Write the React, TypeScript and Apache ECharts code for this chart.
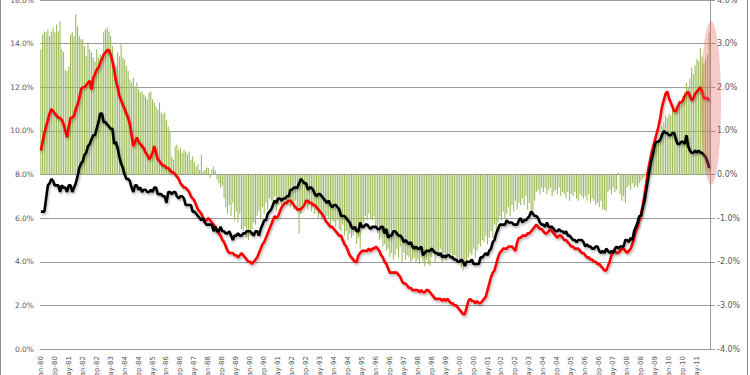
import React, { useEffect, useRef } from "react";
import * as echarts from "echarts";

const MONTHS = ["Jan", "Feb", "Mar", "Apr", "May", "Jun", "Jul", "Aug", "Sep", "Oct", "Nov", "Dec"];
const FIRST_YEAR = 1980;
const LAST_YEAR = 2011;

// Left axis (black line), %, monthly 1980-2011
const blackLine = [
  6.3, 6.3, 6.3, 6.9, 7.5, 7.6, 7.8, 7.7, 7.5, 7.5, 7.5, 7.2,
  7.5, 7.4, 7.4, 7.2, 7.5, 7.5, 7.2, 7.4, 7.6, 7.9, 8.3, 8.5,
  8.6, 8.9, 9.0, 9.3, 9.4, 9.6, 9.8, 9.8, 10.1, 10.4, 10.8, 10.8,
  10.4, 10.4, 10.3, 10.2, 10.1, 10.1, 9.4, 9.5, 9.2, 8.8, 8.5, 8.3,
  8.0, 7.8, 7.8, 7.7, 7.4, 7.2, 7.5, 7.5, 7.3, 7.4, 7.2, 7.3,
  7.3, 7.2, 7.2, 7.3, 7.2, 7.4, 7.4, 7.1, 7.1, 7.1, 7.0, 7.0,
  6.7, 7.2, 7.2, 7.1, 7.2, 7.2, 7.0, 6.9, 7.0, 7.0, 6.9, 6.6,
  6.6, 6.6, 6.6, 6.3, 6.3, 6.2, 6.1, 6.0, 5.9, 6.0, 5.8, 5.7,
  5.7, 5.7, 5.7, 5.4, 5.6, 5.4, 5.4, 5.6, 5.4, 5.4, 5.3, 5.3,
  5.4, 5.2, 5.0, 5.2, 5.2, 5.3, 5.2, 5.2, 5.3, 5.3, 5.4, 5.4,
  5.4, 5.3, 5.2, 5.4, 5.4, 5.2, 5.5, 5.7, 5.9, 5.9, 6.2, 6.3,
  6.4, 6.6, 6.8, 6.7, 6.9, 6.9, 6.8, 6.9, 6.9, 7.0, 7.0, 7.3,
  7.3, 7.4, 7.4, 7.4, 7.6, 7.8, 7.7, 7.6, 7.6, 7.3, 7.4, 7.4,
  7.3, 7.1, 7.0, 7.1, 7.1, 7.0, 6.9, 6.8, 6.7, 6.8, 6.6, 6.5,
  6.6, 6.6, 6.5, 6.4, 6.1, 6.1, 6.1, 6.0, 5.9, 5.8, 5.6, 5.5,
  5.6, 5.4, 5.4, 5.8, 5.6, 5.6, 5.7, 5.7, 5.6, 5.5, 5.6, 5.6,
  5.6, 5.5, 5.5, 5.6, 5.6, 5.3, 5.5, 5.1, 5.2, 5.2, 5.4, 5.4,
  5.3, 5.2, 5.2, 5.1, 4.9, 5.0, 4.9, 4.8, 4.9, 4.7, 4.6, 4.7,
  4.6, 4.6, 4.7, 4.3, 4.4, 4.5, 4.5, 4.5, 4.6, 4.5, 4.4, 4.4,
  4.3, 4.4, 4.2, 4.3, 4.2, 4.3, 4.3, 4.2, 4.2, 4.1, 4.1, 4.0,
  4.0, 4.1, 4.0, 3.8, 4.0, 4.0, 4.0, 4.1, 3.9, 3.9, 3.9, 3.9,
  4.2, 4.2, 4.3, 4.4, 4.3, 4.5, 4.6, 4.9, 5.0, 5.3, 5.5, 5.7,
  5.7, 5.7, 5.7, 5.9, 5.8, 5.8, 5.8, 5.7, 5.7, 5.7, 5.9, 6.0,
  5.8, 5.9, 5.9, 6.0, 6.1, 6.3, 6.2, 6.1, 6.1, 6.0, 5.8, 5.7,
  5.7, 5.6, 5.8, 5.6, 5.6, 5.6, 5.5, 5.4, 5.4, 5.5, 5.4, 5.4,
  5.3, 5.4, 5.2, 5.2, 5.1, 5.0, 5.0, 4.9, 5.0, 5.0, 5.0, 4.9,
  4.7, 4.8, 4.7, 4.7, 4.6, 4.6, 4.7, 4.7, 4.5, 4.4, 4.5, 4.4,
  4.6, 4.5, 4.4, 4.5, 4.4, 4.6, 4.7, 4.6, 4.7, 4.7, 4.7, 5.0,
  5.0, 4.9, 5.1, 5.0, 5.4, 5.6, 5.8, 6.1, 6.1, 6.5, 6.8, 7.3,
  7.8, 8.3, 8.7, 9.0, 9.4, 9.5, 9.5, 9.6, 9.8, 10.0, 9.9, 9.9,
  9.8, 9.8, 9.9, 9.9, 9.6, 9.4, 9.4, 9.5, 9.5, 9.4, 9.8, 9.3,
  9.1, 9.0, 9.0, 9.1, 9.0, 9.1, 9.0, 9.0, 8.9, 8.8, 8.6, 8.3,
];

// Left axis (red line), %, monthly 1980-2011
const redLine = [
  9.1, 9.5, 9.9, 10.2, 10.5, 10.8, 11.0, 10.9, 10.8, 10.7, 10.6, 10.6,
  10.5, 10.3, 10.0, 9.7, 10.2, 10.6, 10.6, 10.7, 11.0, 11.2, 11.5, 11.9,
  12.0, 12.0, 12.1, 12.2, 12.3, 11.9, 12.4, 12.6, 12.8, 12.9, 13.1, 13.3,
  13.5, 13.6, 13.7, 13.7, 13.5, 13.2, 12.8, 12.3, 12.0, 11.6, 11.4, 11.2,
  11.0, 10.8, 10.6, 10.3, 9.8, 9.3, 9.5, 9.7, 9.5, 9.4, 9.3, 9.2,
  9.0, 8.9, 8.7, 8.8, 9.0, 9.3, 9.0, 8.7, 8.6, 8.5, 8.4, 8.4,
  8.3, 8.3, 8.2, 8.1, 8.1, 8.0, 7.9, 7.8, 7.6, 7.5, 7.4, 7.4,
  7.3, 7.2, 7.0, 6.9, 6.8, 6.6, 6.4, 6.3, 6.2, 6.0, 5.9, 5.9,
  6.0, 5.9, 5.8, 5.7, 5.6, 5.4, 5.3, 5.2, 5.0, 4.9, 4.7, 4.5,
  4.4, 4.4, 4.4, 4.3, 4.3, 4.2, 4.3, 4.4, 4.3, 4.2, 4.1, 4.0,
  4.0, 3.9, 4.0, 4.1, 4.2, 4.4, 4.6, 4.8, 4.9, 5.1, 5.3, 5.5,
  5.7, 5.9, 6.1, 6.0, 6.1, 6.3, 6.5, 6.6, 6.7, 6.7, 6.8, 6.8,
  6.7, 6.6, 6.5, 6.4, 6.4, 6.4, 6.5, 6.6, 6.8, 6.8, 6.7, 6.7,
  6.6, 6.6, 6.5, 6.4, 6.3, 6.2, 6.1, 5.9, 5.8, 5.7, 5.6, 5.6,
  5.5, 5.4, 5.3, 5.2, 5.2, 5.0, 4.8, 4.7, 4.5, 4.3, 4.2, 4.1,
  4.0, 4.0, 4.3, 4.4, 4.5, 4.5, 4.5, 4.5, 4.6, 4.5, 4.6, 4.6,
  4.7, 4.6, 4.5, 4.3, 4.2, 4.0, 3.9, 3.7, 3.5, 3.5, 3.5, 3.5,
  3.5, 3.4, 3.3, 3.1, 3.0, 3.0, 2.9, 2.8, 2.8, 2.7, 2.7, 2.7,
  2.7, 2.6, 2.7, 2.6, 2.6, 2.7, 2.7, 2.6, 2.5, 2.4, 2.3, 2.3,
  2.3, 2.3, 2.2, 2.3, 2.2, 2.3, 2.2, 2.1, 2.1, 2.0, 2.0, 1.9,
  1.8, 1.7, 1.6, 1.6, 1.9, 2.2, 2.3, 2.2, 2.2, 2.1, 2.2, 2.1,
  2.1, 2.2, 2.3, 2.4, 2.7, 3.0, 3.3, 3.5, 3.6, 3.9, 4.2, 4.4,
  4.5, 4.6, 4.6, 4.6, 4.7, 4.7, 4.7, 4.6, 4.5, 4.9, 5.1, 5.1,
  5.2, 5.2, 5.2, 5.3, 5.3, 5.4, 5.5, 5.6, 5.7, 5.6, 5.5, 5.5,
  5.4, 5.3, 5.3, 5.4, 5.5, 5.4, 5.3, 5.2, 5.1, 5.2, 5.2, 5.1,
  5.0, 5.0, 4.9, 4.8, 4.7, 4.7, 4.6, 4.6, 4.6, 4.5, 4.4, 4.4,
  4.3, 4.2, 4.2, 4.1, 4.1, 4.0, 4.0, 3.9, 3.9, 3.8, 3.7, 3.6,
  3.6, 3.8, 4.0, 4.3, 4.5, 4.5, 4.4, 4.4, 4.5, 4.6, 4.6, 4.5,
  4.4, 4.5, 4.6, 4.8, 5.1, 5.4, 5.6, 5.9, 6.2, 6.6, 7.1, 7.6,
  8.2, 8.6, 9.0, 9.3, 9.6, 9.9, 10.2, 10.6, 11.1, 11.4, 11.7, 11.8,
  11.5, 11.3, 11.1, 10.9, 10.9, 11.1, 11.3, 11.3, 11.4, 11.6, 11.7, 11.8,
  11.6, 11.4, 11.5, 11.7, 11.8, 11.9, 12.0, 11.8, 11.5, 11.5, 11.5, 11.4,
];

// Right axis (green bars), %, monthly 1980-2011
const greenBars = [
  2.87, 3.21, 3.28, 3.26, 3.33, 3.17, 3.28, 3.37, 3.26, 3.44, 3.28, 3.51,
  2.87, 2.8, 2.4, 2.37, 2.48, 3.21, 3.26, 3.17, 3.67, 3.4, 3.17, 3.1,
  3.1, 2.94, 2.71, 3.03, 2.87, 2.8, 2.68, 2.59, 2.87, 2.68, 2.75, 2.57,
  3.26, 3.33, 3.37, 3.28, 3.17, 2.94, 2.57, 2.48, 2.8, 2.71, 2.98, 2.68,
  2.64, 2.48, 2.37, 2.18, 2.11, 2.22, 2.02, 2.11, 1.95, 1.88, 1.9, 1.83,
  1.79, 1.72, 1.88, 1.9, 1.72, 1.65, 1.56, 1.49, 1.65, 1.42, 1.38, 1.42,
  1.26, 1.1, 0.99, 0.41, 0.34, 0.64, 0.69, 0.57, 0.62, 0.5, 0.57, 0.53,
  0.46, 0.53, 0.34, 0.41, 0.28, 0.18, 0.23, 0.11, 0.45, 0.07, 0.11, 0.16,
  0.15, -0.08, 0.12, 0.18, 0.1, -0.12, -0.2, -0.3, -0.25, -0.55, -0.75, -0.9,
  -0.7, -0.95, -0.65, -1.05, -0.85, -1.1, -0.9, -1.25, -1.3, -1.2, -1.45, -1.5,
  -1.4, -1.25, -1.1, -1.15, -0.95, -0.85, -1.05, -0.75, -0.9, -0.65, -0.8, -0.55,
  -0.6, -0.75, -0.5, -0.85, -0.7, -0.55, -0.8, -0.6, -0.5, -0.7, -0.55, -0.75,
  -0.65, -0.8, -0.6, -0.85, -1.35, -0.9, -0.7, -0.75, -0.6, -0.8, -0.65, -0.85,
  -0.75, -0.9, -0.8, -1.0, -0.85, -1.05, -0.9, -1.1, -0.95, -1.0, -1.15, -1.05,
  -1.1, -1.2, -1.05, -1.25, -1.3, -1.15, -1.4, -1.3, -1.5, -1.35, -1.45, -1.4,
  -1.3, -1.6, -1.45, -1.7, -1.25, -1.1, -0.95, -1.05, -0.9, -1.0, -1.05, -0.95,
  -1.2, -1.35, -1.5, -1.45, -1.65, -1.6, -1.75, -1.7, -1.9, -1.8, -1.95, -1.85,
  -1.7, -1.9, -1.65, -2.0, -1.8, -1.95, -1.85, -1.9, -2.0, -1.95, -1.9, -2.0,
  -1.95, -2.05, -1.9, -2.0, -2.1, -1.95, -2.05, -2.1, -1.9, -1.75, -2.0, -1.8,
  -1.85, -1.7, -2.0, -1.8, -1.95, -1.85, -1.9, -1.8, -1.95, -1.85, -1.9, -2.0,
  -2.0, -2.15, -2.2, -2.1, -2.05, -1.9, -1.8, -1.85, -1.7, -1.9, -1.75, -1.6,
  -1.65, -1.5, -1.55, -1.4, -1.6, -1.45, -1.3, -1.45, -1.15, -1.35, -1.1, -0.95,
  -1.05, -0.85, -1.0, -0.9, -0.75, -0.95, -0.7, -0.85, -0.6, -0.8, -0.65, -0.7,
  -0.55, -0.7, -0.5, -0.8, -0.65, -0.85, -0.9, -0.6, -0.4, -0.35, -0.45, -0.3,
  -0.4, -0.3, -0.45, -0.35, -0.3, -0.5, -0.4, -0.35, -0.45, -0.3, -0.5, -0.4,
  -0.45, -0.55, -0.4, -0.6, -0.45, -0.5, -0.4, -0.55, -0.6, -0.45, -0.5, -0.55,
  -0.5, -0.6, -0.45, -0.65, -0.55, -0.6, -0.7, -0.65, -0.75, -0.6, -0.8, -0.8,
  -0.85, -0.4, -0.35, -0.45, -0.3, -0.4, -0.35, 0.04, -0.45, -0.6, -0.5, -0.65,
  -0.3, -0.25, -0.35, -0.2, -0.3, -0.25, -0.3, -0.2, -0.15, -0.1, -0.05, 0.05,
  0.1, 0.2, 0.3, 0.45, 0.55, 0.7, 0.8, 0.95, 1.1, 1.2, 1.35, 1.3,
  1.4, 1.35, 1.5, 1.45, 1.6, 1.55, 1.7, 1.65, 1.8, 1.9, 2.1, 2.0,
  2.2, 2.45, 2.3, 2.5, 2.65, 2.6, 2.9, 2.7, 2.55, 2.65, 2.75, 3.25,
];

const leftTicks = { min: 0, max: 16, interval: 2 };
const rightTicks = { min: -4, max: 4, interval: 1 };

const categories: string[] = [];
for (let y = FIRST_YEAR; y <= LAST_YEAR; y++) {
  for (const m of MONTHS) categories.push(`${m}-${String(y).slice(2)}`);
}

const pct = (v: number) => v.toFixed(1) + "%";
const FONT = "DejaVu Sans";
const LABEL_COLOR = "#595959";

export default function App() {
  const ref = useRef<HTMLDivElement>(null);
  useEffect(() => {
    if (!ref.current) return;
    const chart = echarts.init(ref.current, undefined, { renderer: "svg" });
    const lineShadow = {
      shadowColor: "rgba(0,0,0,0.28)",
      shadowBlur: 2,
      shadowOffsetX: 1,
      shadowOffsetY: 2,
    };
    chart.setOption({
      animation: false,
      backgroundColor: "#ffffff",
      grid: {
        left: 40,
        right: 40,
        top: 0,
        bottom: 26,
        containLabel: false,
        outerBoundsMode: "none",
      },
      xAxis: {
        type: "category",
        data: categories,
        boundaryGap: true,
        axisLine: { show: true, lineStyle: { color: "#999999", width: 1 } },
        axisTick: { show: false },
        axisLabel: {
          rotate: 90,
          interval: 7,
          fontSize: 7,
          fontFamily: FONT,
          color: LABEL_COLOR,
          margin: 7,
          hideOverlap: false,
        },
        splitLine: { show: false },
      },
      yAxis: [
        {
          type: "value",
          position: "left",
          ...leftTicks,
          axisLine: { show: false },
          axisTick: { show: false },
          axisLabel: {
            formatter: pct,
            fontSize: 7.5,
            fontFamily: FONT,
            color: LABEL_COLOR,
            margin: 6,
          },
          splitLine: { show: true, lineStyle: { color: "#9a9a9a", width: 1 } },
        },
        {
          type: "value",
          position: "right",
          ...rightTicks,
          axisLine: { show: true, lineStyle: { color: "#999999", width: 1 } },
          axisTick: { show: true, length: 5, lineStyle: { color: "#999999" } },
          axisLabel: {
            formatter: pct,
            fontSize: 8,
            fontFamily: FONT,
            color: LABEL_COLOR,
            margin: 7,
          },
          splitLine: { show: false },
        },
      ],
      series: [
        {
          type: "bar",
          yAxisIndex: 1,
          data: greenBars,
          barWidth: "62%",
          itemStyle: { color: "#9bbb59" },
          z: 1,
        },
        {
          type: "line",
          yAxisIndex: 0,
          data: redLine,
          showSymbol: false,
          lineStyle: { color: "#ff0000", width: 2.6, ...lineShadow },
          z: 3,
        },
        {
          type: "line",
          yAxisIndex: 0,
          data: blackLine,
          showSymbol: false,
          lineStyle: { color: "#000000", width: 2.6, ...lineShadow },
          z: 4,
        },
      ],
      graphic: [
        {
          type: "rect",
          z: 50,
          shape: { x: 0.5, y: -5, width: 747, height: 390 },
          style: { fill: "none", stroke: "#8c8c8c", lineWidth: 1 },
          silent: true,
        },
        {
          type: "ellipse",
          z: 100,
          shape: { cx: 711, cy: 103, rx: 10, ry: 82 },
          style: { fill: "rgba(232,95,95,0.33)" },
          silent: true,
        },
      ],
    });
    return () => chart.dispose();
  }, []);
  return (
    <div
      ref={ref}
      style={{ position: "fixed", left: 0, top: 0, width: 750, height: 375 }}
    />
  );
}
